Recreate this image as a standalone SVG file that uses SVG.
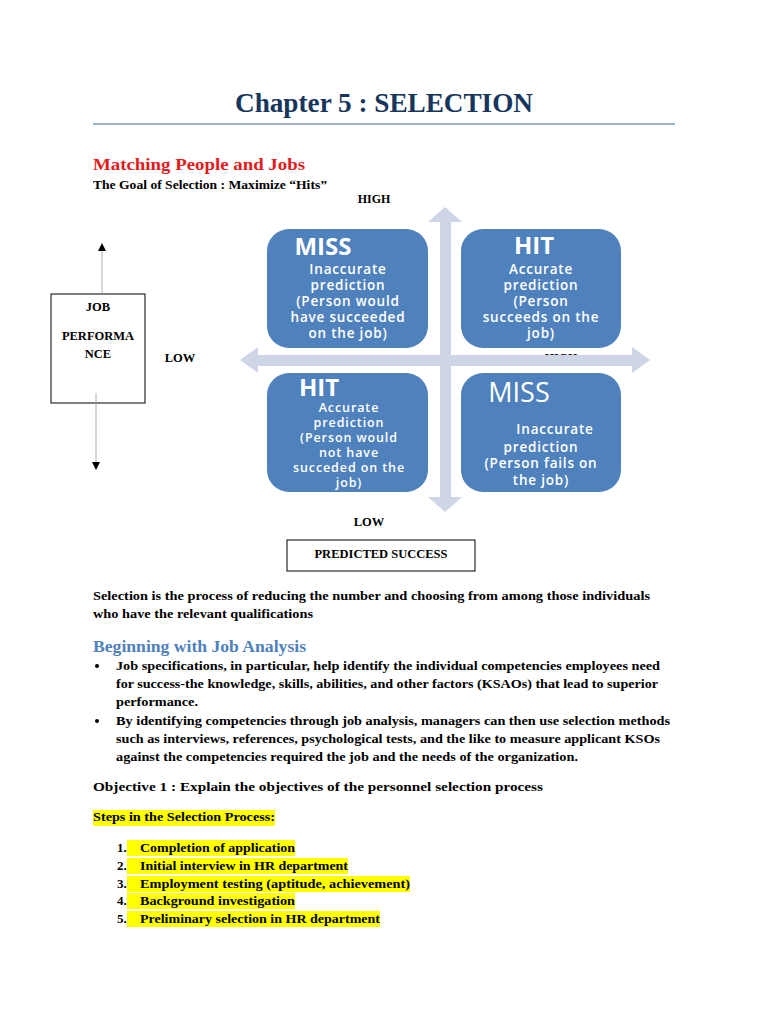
<svg xmlns="http://www.w3.org/2000/svg" width="768" height="1024" viewBox="0 0 768 1024">
<style>
.t{font-family:"Liberation Serif","DejaVu Serif",serif;font-weight:bold;fill:#000}
.b{font-size:13px}
.box{font-family:"Open Sans","Liberation Sans",sans-serif;fill:#fff;text-anchor:middle}
.bt{font-size:13.5px;font-weight:600;letter-spacing:0.8px}
.bs{font-size:12.5px;font-weight:600;letter-spacing:0.9px}
.quad{fill:#4F81BD}
.hl{fill:#FFFF00}
</style>
<defs>
<marker id="ah" markerWidth="8" markerHeight="8" refX="4" refY="4" orient="auto" markerUnits="userSpaceOnUse">
<path d="M0,0 L8,4 L0,8 Z" fill="#000"/>
</marker>
</defs>
<rect width="768" height="1024" fill="#fff"/>

<text class="t" x="384" y="112" font-size="27" style="fill:#17365D" text-anchor="middle" textLength="298" lengthAdjust="spacingAndGlyphs">Chapter 5 : SELECTION</text>
<line x1="93" y1="124" x2="675" y2="124" stroke="#7F9DBF" stroke-width="1.5"/>

<text class="t" x="93" y="170" font-size="17" style="fill:#E31B1B" textLength="212" lengthAdjust="spacingAndGlyphs">Matching People and Jobs</text>
<text class="t" x="93" y="189" font-size="12.5" textLength="234" lengthAdjust="spacingAndGlyphs">The Goal of Selection : Maximize “Hits”</text>
<text class="t" x="374" y="203" font-size="12" text-anchor="middle">HIGH</text>

<!-- HIGH label partly hidden under the axis arrow -->
<text class="t" x="561" y="362" font-size="12" text-anchor="middle">HIGH</text>

<g id="axes" fill="#CDD5E6">
<path d="M445,207 L462,222 L451,222 L451,497 L462,497 L445,512 L428,497 L440,497 L440,222 L428,222 Z"/>
<path d="M240,360 L258,347 L258,355 L632,355 L632,347 L650,360 L632,373 L632,366 L258,366 L258,373 Z"/>
</g>

<g id="q-miss-top">
<rect class="quad" x="267" y="229" width="161" height="119" rx="22"/>
<text class="box" x="323" y="255" font-size="24" font-weight="bold">MISS</text>
<text class="box bt" x="348" y="274">Inaccurate</text>
<text class="box bt" x="348" y="290">prediction</text>
<text class="box bt" x="348" y="306">(Person would</text>
<text class="box bt" x="348" y="322">have succeeded</text>
<text class="box bt" x="348" y="338">on the job)</text>
</g>
<g id="q-hit-top">
<rect class="quad" x="461" y="229" width="160" height="119" rx="22"/>
<text class="box" x="534" y="254" font-size="24" font-weight="bold">HIT</text>
<text class="box bt" x="541" y="274">Accurate</text>
<text class="box bt" x="541" y="290">prediction</text>
<text class="box bt" x="541" y="306">(Person</text>
<text class="box bt" x="541" y="322">succeeds on the</text>
<text class="box bt" x="541" y="338">job)</text>
</g>
<g id="q-hit-bottom">
<rect class="quad" x="267" y="373" width="161" height="119" rx="22"/>
<text class="box" x="319" y="396" font-size="24" font-weight="bold">HIT</text>
<text class="box bs" x="349" y="412">Accurate</text>
<text class="box bs" x="349" y="427">prediction</text>
<text class="box bs" x="349" y="442">(Person would</text>
<text class="box bs" x="349" y="457">not have</text>
<text class="box bs" x="349" y="472">succeded on the</text>
<text class="box bs" x="349" y="487">job)</text>
</g>
<g id="q-miss-bottom">
<rect class="quad" x="461" y="373" width="160" height="119" rx="22"/>
<text class="box" x="519" y="402" font-size="27">MISS</text>
<text class="box bt" x="555" y="434">Inaccurate</text>
<text class="box bt" x="541" y="452">prediction</text>
<text class="box bt" x="541" y="468">(Person fails on</text>
<text class="box bt" x="541" y="485">the job)</text>
</g>

<text class="t" x="180" y="362" font-size="12.5" text-anchor="middle">LOW</text>
<text class="t" x="369" y="526" font-size="12.5" text-anchor="middle">LOW</text>

<g id="job-performance">
<rect x="51" y="294" width="94" height="109" fill="#fff" stroke="#000" stroke-width="1"/>
<text class="t" x="98" y="311" font-size="12.5" text-anchor="middle">JOB</text>
<text class="t" x="98" y="340" font-size="12.5" text-anchor="middle">PERFORMA</text>
<text class="t" x="98" y="358" font-size="12.5" text-anchor="middle">NCE</text>
</g>
<g id="connectors" stroke="#999" stroke-width="0.8" fill="none">
<line x1="102" y1="294" x2="102" y2="247" marker-end="url(#ah)"/>
<line x1="96" y1="393" x2="96" y2="466" marker-end="url(#ah)"/>
</g>

<g id="predicted-success">
<rect x="287" y="540" width="188" height="31" fill="#fff" stroke="#000" stroke-width="1"/>
<text class="t" x="381" y="558" font-size="12.5" text-anchor="middle">PREDICTED SUCCESS</text>
</g>

<text class="t b" x="93" y="600" textLength="557" lengthAdjust="spacingAndGlyphs">Selection is the process of reducing the number and choosing from among those individuals</text>
<text class="t b" x="93" y="618" textLength="220" lengthAdjust="spacingAndGlyphs">who have the relevant qualifications</text>

<text class="t" x="93" y="652" font-size="16" style="fill:#4F81BD" textLength="213" lengthAdjust="spacingAndGlyphs">Beginning with Job Analysis</text>
<circle cx="97" cy="666" r="2"/>
<text class="t b" x="116" y="670" textLength="544" lengthAdjust="spacingAndGlyphs">Job specifications, in particular, help identify the individual competencies employees need</text>
<text class="t b" x="116" y="688" textLength="542" lengthAdjust="spacingAndGlyphs">for success-the knowledge, skills, abilities, and other factors (KSAOs) that lead to superior</text>
<text class="t b" x="116" y="706" textLength="82" lengthAdjust="spacingAndGlyphs">performance.</text>
<circle cx="97" cy="721" r="2"/>
<text class="t b" x="116" y="725" textLength="554" lengthAdjust="spacingAndGlyphs">By identifying competencies through job analysis, managers can then use selection methods</text>
<text class="t b" x="116" y="743" textLength="544" lengthAdjust="spacingAndGlyphs">such as interviews, references, psychological tests, and the like to measure applicant KSOs</text>
<text class="t b" x="116" y="761" textLength="462" lengthAdjust="spacingAndGlyphs">against the competencies required the job and the needs of the organization.</text>

<text class="t" x="93" y="791" font-size="13.5" textLength="450" lengthAdjust="spacingAndGlyphs">Objective 1 : Explain the objectives of the personnel selection process</text>

<rect class="hl" x="93" y="810" width="182" height="16"/>
<text class="t" x="93" y="821" font-size="12.5" textLength="182" lengthAdjust="spacingAndGlyphs">Steps in the Selection Process:</text>

<rect class="hl" x="127" y="840" width="168" height="16"/>
<rect class="hl" x="127" y="858" width="221" height="16"/>
<rect class="hl" x="127" y="876" width="283" height="16"/>
<rect class="hl" x="127" y="893" width="168" height="16"/>
<rect class="hl" x="127" y="911" width="253" height="16"/>
<g class="t b">
<text x="117" y="852">1.</text>
<text x="117" y="870">2.</text>
<text x="117" y="888">3.</text>
<text x="117" y="905">4.</text>
<text x="117" y="923">5.</text>
<text x="140" y="852" textLength="155" lengthAdjust="spacingAndGlyphs">Completion of application</text>
<text x="140" y="870" textLength="208" lengthAdjust="spacingAndGlyphs">Initial interview in HR department</text>
<text x="140" y="888" textLength="270" lengthAdjust="spacingAndGlyphs">Employment testing (aptitude, achievement)</text>
<text x="140" y="905" textLength="155" lengthAdjust="spacingAndGlyphs">Background investigation</text>
<text x="140" y="923" textLength="240" lengthAdjust="spacingAndGlyphs">Preliminary selection in HR department</text>
</g>
</svg>
